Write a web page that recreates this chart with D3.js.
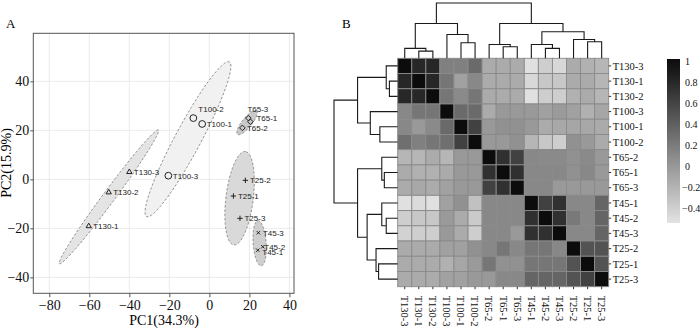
<!DOCTYPE html>
<html>
<head>
<meta charset="utf-8">
<script src="https://cdn.jsdelivr.net/npm/d3@7"></script>
<style>
  body { margin: 0; background: #fff; }
  svg { display: block; }
</style>
</head>
<body>
<script>
// ---- data: PCA scores (panel A)
var pcaNames = ["T100-2", "T100-1", "T100-3", "T65-3", "T65-1", "T65-2",
                "T130-3", "T130-2", "T130-1", "T25-2", "T25-1", "T25-3",
                "T45-3", "T45-2", "T45-1"];
var pc1 = [-8, -3.6, -20.5, 19.5, 20.5, 16.5, -40, -50.3, -60.3, 18, 12, 15.3, 24.5, 26.7, 24.2];
var pc2 = [25, 22.6, 1.5, 25, 23.5, 21, 3, -5.3, -19.1, -0.4, -6.8, -15.9, -21.8, -27.5, -28.9];
var pcaGroup = ["T100", "T100", "T100", "T65", "T65", "T65", "T130", "T130", "T130",
                "T25", "T25", "T25", "T45", "T45", "T45"];
var groups = ["T130", "T100", "T65", "T25", "T45"];
var xTicks = [-80, -60, -40, -20, 0, 20, 40];
var yTicks = [-40, -20, 0, 20, 40];

// ---- data: correlation heatmap (panel B), in display order
var samples = ["T130-3", "T130-1", "T130-2", "T100-3", "T100-1", "T100-2",
               "T65-2", "T65-1", "T65-3", "T45-1", "T45-2", "T45-3",
               "T25-2", "T25-1", "T25-3"];
var corr = [
  [1, 0.81, 0.81, 0.17, 0.17, 0.33, -0.14, -0.14, -0.14, -0.52, -0.39, -0.46, -0.14, -0.18, -0.22],
  [0.81, 1, 0.81, 0.24, -0.07, 0.11, -0.14, -0.14, -0.14, -0.46, -0.34, -0.34, -0.14, -0.14, -0.22],
  [0.81, 0.81, 1, 0.24, 0.10, 0.24, -0.14, -0.14, -0.14, -0.52, -0.39, -0.39, -0.18, -0.14, -0.22],
  [0.11, 0.24, 0.24, 1, 0.33, 0.33, -0.14, -0.01, -0.01, -0.01, -0.07, -0.02, -0.07, -0.18, -0.10],
  [0.11, -0.01, 0.10, 0.33, 1, 0.62, -0.01, 0.05, 0.05, -0.01, -0.14, -0.12, -0.10, -0.12, -0.14],
  [0.29, 0.17, 0.24, 0.29, 0.62, 1, -0.01, -0.01, 0.05, -0.22, -0.34, -0.39, 0.05, -0.01, -0.14],
  [-0.22, -0.22, -0.14, -0.22, -0.01, -0.01, 1, 0.74, 0.62, 0.11, 0.10, 0.10, 0.05, 0.10, -0.01],
  [-0.14, -0.18, -0.18, -0.14, -0.01, -0.01, 0.74, 1, 0.74, 0.11, 0.11, 0.11, 0.05, 0.11, -0.01],
  [-0.14, -0.12, -0.14, -0.07, -0.01, -0.01, 0.62, 0.74, 1, 0.11, 0.11, -0.01, -0.01, -0.01, -0.01],
  [-0.52, -0.48, -0.52, -0.07, 0.05, -0.30, 0.11, 0.11, 0.11, 1, 0.62, 0.74, 0.11, 0.11, 0.36],
  [-0.39, -0.34, -0.34, -0.02, -0.14, -0.36, 0.11, 0.11, 0.11, 0.74, 1, 0.74, 0.22, 0.11, 0.36],
  [-0.42, -0.39, -0.39, -0.01, -0.14, -0.39, 0.11, 0.11, -0.01, 0.74, 0.74, 1, 0.11, 0.11, 0.36],
  [-0.14, -0.14, -0.14, -0.07, -0.07, 0.05, 0.11, 0.24, 0.11, 0.24, 0.24, 0.11, 1, 0.49, 0.49],
  [-0.14, -0.14, -0.14, -0.18, -0.10, -0.02, 0.24, 0.05, 0.05, 0.24, 0.24, 0.24, 0.49, 1, 0.49],
  [-0.14, -0.14, -0.14, -0.07, -0.07, -0.01, -0.01, 0.11, 0.11, 0.36, 0.36, 0.36, 0.49, 0.62, 1]
];
// hclust-style merges: negative = leaf (-(index+1)), positive = earlier merge step
var merges = [
  [-2, -3, 0.13], [-1, 1, 0.18], [-5, -6, 0.28], [-4, 3, 0.43], [2, 4, 0.63],
  [-8, -9, 0.21], [-7, 6, 0.25], [-11, -12, 0.18], [-10, 8, 0.25],
  [-14, -15, 0.30], [-13, 10, 0.34], [9, 11, 0.48], [7, 12, 0.63], [5, 13, 1.0]
];
var legendTicks = [1, 0.8, 0.6, 0.4, 0.2, 0, -0.2, -0.4];

var serif = "'Liberation Serif', 'Times New Roman', serif";
var sans = "'Liberation Sans', Arial, sans-serif";

var svg = d3.select("body").append("svg")
  .attr("width", 700)
  .attr("height", 330);

// ================= Panel A =================
var x = d3.scaleLinear().domain([-88, 42.3]).range([33.3, 294]);
var y = d3.scaleLinear().domain([-46.5, 59.6]).range([293.3, 33.3]);

var gA = svg.append("g");

// grid
gA.selectAll(".gx").data(xTicks).enter().append("line")
  .attr("x1", function(d) { return x(d); }).attr("x2", function(d) { return x(d); })
  .attr("y1", y.range()[1]).attr("y2", y.range()[0])
  .attr("stroke", "#e6e6e6").attr("stroke-width", 0.8);
gA.selectAll(".gy").data(yTicks).enter().append("line")
  .attr("y1", function(d) { return y(d); }).attr("y2", function(d) { return y(d); })
  .attr("x1", x.range()[0]).attr("x2", x.range()[1])
  .attr("stroke", "#e6e6e6").attr("stroke-width", 0.8);

// 95% confidence ellipses computed from each group's scores
var ellipseFill = { T130: "#e4e4e4", T100: "#f1f1f1", T65: "#c9c9c9", T25: "#d9d9d9", T45: "#cfcfcf" };
groups.forEach(function(g) {
  var idx = d3.range(pcaNames.length).filter(function(i) { return pcaGroup[i] === g; });
  var n = idx.length;
  var mx = d3.mean(idx, function(i) { return pc1[i]; });
  var my = d3.mean(idx, function(i) { return pc2[i]; });
  var a = 0, b = 0, c = 0;
  idx.forEach(function(i) {
    var dx = pc1[i] - mx, dy = pc2[i] - my;
    a += dx * dx; b += dx * dy; c += dy * dy;
  });
  a /= (n - 1); b /= (n - 1); c /= (n - 1);
  var tr = (a + c) / 2, disc = Math.sqrt(((a - c) / 2) * ((a - c) / 2) + b * b);
  var l1 = tr + disc, l2 = Math.max(tr - disc, 0.5);
  var th = 0.5 * Math.atan2(2 * b, a - c);
  var k = Math.sqrt(5.991);
  var r1 = k * Math.sqrt(l1), r2 = k * Math.sqrt(l2);
  var pts = d3.range(0, 101).map(function(j) {
    var t = j / 100 * 2 * Math.PI;
    var ex = r1 * Math.cos(t), ey = r2 * Math.sin(t);
    return [x(mx + ex * Math.cos(th) - ey * Math.sin(th)),
            y(my + ex * Math.sin(th) + ey * Math.cos(th))];
  });
  gA.append("path")
    .attr("d", d3.line()(pts) + "Z")
    .attr("fill", ellipseFill[g])
    .attr("stroke", "#7a7a7a")
    .attr("stroke-width", 0.8)
    .attr("stroke-dasharray", "2.5,1.8");
});

// frame
gA.append("rect")
  .attr("x", x.range()[0]).attr("y", y.range()[1])
  .attr("width", x.range()[1] - x.range()[0])
  .attr("height", y.range()[0] - y.range()[1])
  .attr("fill", "none").attr("stroke", "#555").attr("stroke-width", 1);

// axes
var xAxis = gA.append("g")
  .attr("transform", "translate(0," + y.range()[0] + ")")
  .call(d3.axisBottom(x).tickValues(xTicks).tickSize(4).tickPadding(3));
var yAxis = gA.append("g")
  .attr("transform", "translate(" + x.range()[0] + ",0)")
  .call(d3.axisLeft(y).tickValues(yTicks).tickSize(3).tickPadding(1));
[xAxis, yAxis].forEach(function(ax) {
  ax.select(".domain").remove();
  ax.selectAll("line").attr("stroke", "#555");
  ax.selectAll("text").attr("font-family", serif).attr("font-size", 14).attr("fill", "#111");
});

// markers
var symbolType = { T100: d3.symbolCircle, T65: d3.symbolDiamond2, T130: d3.symbolTriangle2,
                   T25: d3.symbolPlus, T45: d3.symbolTimes };
var symbolSize = { T100: 36, T65: 20, T130: 20, T25: 11, T45: 9 };
gA.selectAll(".pt").data(pcaNames).enter().append("path")
  .attr("transform", function(d, i) { return "translate(" + x(pc1[i]) + "," + y(pc2[i]) + ")"; })
  .attr("d", function(d, i) { return d3.symbol().type(symbolType[pcaGroup[i]]).size(symbolSize[pcaGroup[i]])(); })
  .attr("fill", "none").attr("stroke", "#222").attr("stroke-width", 1);

// sample labels
var labelOffset = { "T100-2": [5, -6], "T65-3": [-1, -6], "T65-1": [6, -1], "T65-2": [4.5, 3],
                    "T45-2": [1.5, 3], "T45-1": [4.5, 4.5] };
gA.selectAll(".lb").data(pcaNames).enter().append("text")
  .attr("x", function(d, i) { return x(pc1[i]) + (labelOffset[d] ? labelOffset[d][0] : 4.5); })
  .attr("y", function(d, i) { return y(pc2[i]) + (labelOffset[d] ? labelOffset[d][1] : 3); })
  .attr("font-family", sans).attr("font-size", 8).attr("fill", "#222")
  .text(function(d) { return d; });

gA.append("text").attr("x", 164).attr("y", 325)
  .attr("text-anchor", "middle").attr("font-family", serif).attr("font-size", 14)
  .text("PC1(34.3%)");
gA.append("text").attr("transform", "translate(11,163) rotate(-90)")
  .attr("text-anchor", "middle").attr("font-family", serif).attr("font-size", 14)
  .text("PC2(15.9%)");
gA.append("text").attr("x", 6).attr("y", 28)
  .attr("font-family", serif).attr("font-size", 13).text("A");

// ================= Panel B =================
var hx = d3.scaleBand().domain(d3.range(samples.length)).range([397.7, 608.7]);
var hy = d3.scaleBand().domain(d3.range(samples.length)).range([58.3, 286.7]);
var color = d3.scaleLinear().domain([-0.54, 1]).range(["#e3e3e3", "#0c0c0c"]);

var gB = svg.append("g");
gB.append("text").attr("x", 342).attr("y", 28)
  .attr("font-family", serif).attr("font-size", 13).text("B");

var cells = [];
corr.forEach(function(row, r) { row.forEach(function(v, c) { cells.push({ r: r, c: c, v: v }); }); });
gB.selectAll(".cell").data(cells).enter().append("rect")
  .attr("x", function(d) { return hx(d.c); })
  .attr("y", function(d) { return hy(d.r); })
  .attr("width", hx.bandwidth()).attr("height", hy.bandwidth())
  .attr("fill", function(d) { return color(d.v); })
  .attr("stroke", "#8a8a8a").attr("stroke-width", 0.9);

// small ticks right and bottom
gB.selectAll(".rt").data(samples).enter().append("line")
  .attr("x1", hx.range()[1]).attr("x2", hx.range()[1] + 2.5)
  .attr("y1", function(d, i) { return hy(i) + hy.bandwidth() / 2; })
  .attr("y2", function(d, i) { return hy(i) + hy.bandwidth() / 2; })
  .attr("stroke", "#333");
gB.selectAll(".bt").data(samples).enter().append("line")
  .attr("y1", hy.range()[1]).attr("y2", hy.range()[1] + 2.5)
  .attr("x1", function(d, i) { return hx(i) + hx.bandwidth() / 2; })
  .attr("x2", function(d, i) { return hx(i) + hx.bandwidth() / 2; })
  .attr("stroke", "#333");

// labels
gB.selectAll(".rl").data(samples).enter().append("text")
  .attr("x", hx.range()[1] + 4)
  .attr("y", function(d, i) { return hy(i) + hy.bandwidth() / 2; })
  .attr("dy", "0.35em")
  .attr("font-family", serif).attr("font-size", 10.5).attr("fill", "#111")
  .text(function(d) { return d; });
gB.selectAll(".cl").data(samples).enter().append("text")
  .attr("transform", function(d, i) {
    return "translate(" + (hx(i) + hx.bandwidth() / 2) + "," + (hy.range()[1] + 9) + ") rotate(90)";
  })
  .attr("dy", "0.35em")
  .attr("font-family", serif).attr("font-size", 10.5).attr("fill", "#111")
  .text(function(d) { return d; });

// dendrograms built from the merge table
function buildNodes() {
  var nodes = [];
  merges.forEach(function(m, k) {
    var kids = [m[0], m[1]].map(function(id) {
      return id < 0 ? { pos: -id - 1, h: 0 } : nodes[id - 1];
    });
    nodes.push({ pos: (kids[0].pos + kids[1].pos) / 2, h: m[2], kids: kids });
  });
  return nodes;
}
var nodes = buildNodes();
var colH = d3.scaleLinear().domain([0, 1]).range([hy.range()[0], 3]);
var rowH = d3.scaleLinear().domain([0, 1]).range([hx.range()[0], 334]);
var colPos = function(p) { return hx.range()[0] + hx.step() * (p + 0.5); };
var rowPos = function(p) { return hy.range()[0] + hy.step() * (p + 0.5); };

var topPath = "", leftPath = "";
nodes.forEach(function(nd) {
  var a = nd.kids[0], b = nd.kids[1];
  topPath += "M" + colPos(a.pos) + "," + colH(a.h) + "V" + colH(nd.h) +
             "H" + colPos(b.pos) + "V" + colH(b.h);
  leftPath += "M" + rowH(a.h) + "," + rowPos(a.pos) + "H" + rowH(nd.h) +
              "V" + rowPos(b.pos) + "H" + rowH(b.h);
});
gB.append("path").attr("d", topPath).attr("fill", "none")
  .attr("stroke", "#1a1a1a").attr("stroke-width", 1.1);
gB.append("path").attr("d", leftPath).attr("fill", "none")
  .attr("stroke", "#1a1a1a").attr("stroke-width", 1.1);

// colour key
var ky = d3.scaleLinear().domain([1.02, -0.54]).range([59, 223]);
var defs = svg.append("defs");
var grad = defs.append("linearGradient").attr("id", "kgrad")
  .attr("x1", 0).attr("y1", 0).attr("x2", 0).attr("y2", 1);
d3.range(0, 11).forEach(function(j) {
  var v = ky.invert(59 + j / 10 * 164);
  grad.append("stop").attr("offset", j / 10).attr("stop-color", color(Math.max(-0.54, Math.min(1, v))));
});
gB.append("rect").attr("x", 667).attr("y", ky(1.02))
  .attr("width", 13).attr("height", ky(-0.54) - ky(1.02))
  .attr("fill", "url(#kgrad)");
gB.selectAll(".kt").data(legendTicks).enter().append("text")
  .attr("x", function(d) { return d < 0 ? 682 : 685; })
  .attr("y", function(d) { return ky(d); })
  .attr("dy", "0.35em")
  .attr("font-family", serif).attr("font-size", 10).attr("fill", "#111")
  .text(function(d) { return d3.format("")(d).replace("-", "\u2212"); });
</script>
</body>
</html>
